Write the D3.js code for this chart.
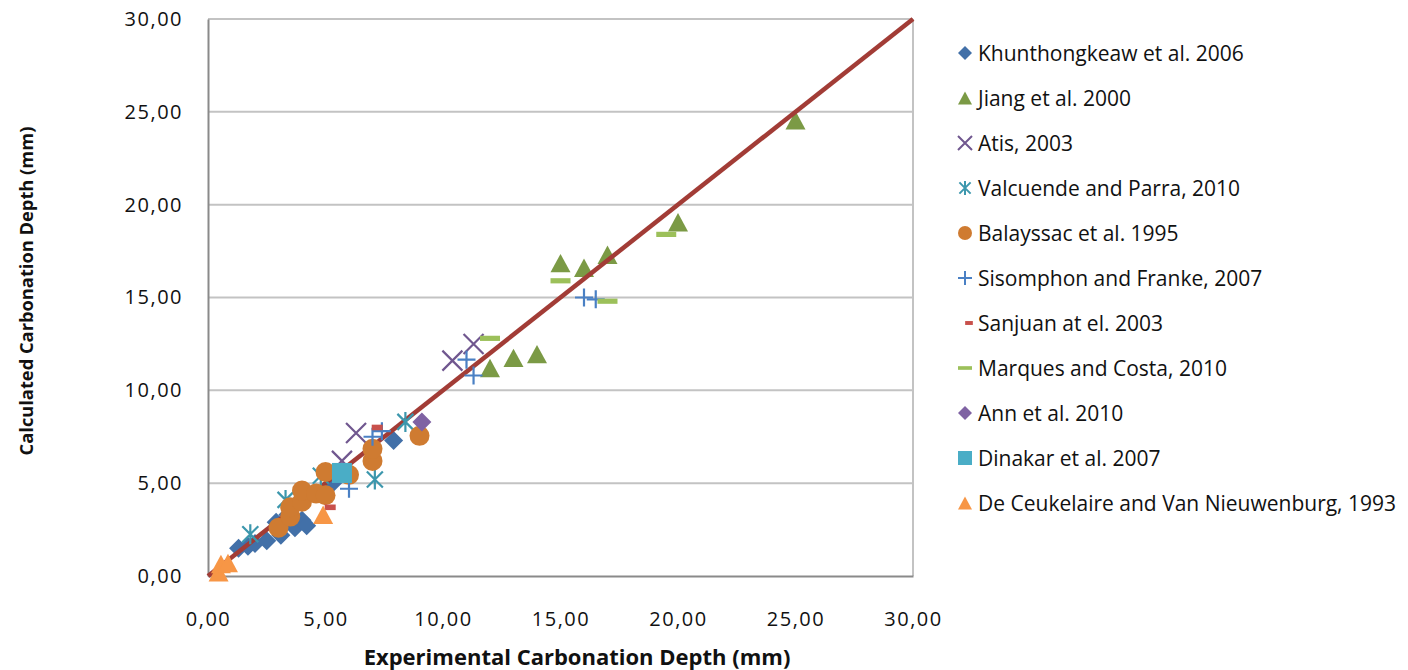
<!DOCTYPE html>
<html>
<head>
<meta charset="utf-8">
<script src="https://cdn.jsdelivr.net/npm/d3@7/dist/d3.min.js"></script>
<style>
  html, body { margin: 0; padding: 0; background: #fff; }
  svg { display: block; font-family: "Open Sans", "Noto Sans", sans-serif; }
</style>
</head>
<body>
<svg id="chart" width="1408" height="670"></svg>
<script>
// Experimental vs calculated carbonation depth (mm), one array per study
const khunthongkeaw = [[1.3,1.5],[1.7,1.6],[2.0,1.75],[2.5,1.9],[2.9,2.9],[3.1,2.2],[3.4,3.3],[3.7,2.6],[4.0,3.0],[4.2,2.7],[5.3,5.0],[7.9,7.3]];
const jiang = [[12,11.2],[13,11.75],[14,11.95],[15,16.85],[16,16.6],[17,17.3],[20,19.05],[25,24.55]];
const atis = [[5.7,6.2],[6.3,7.7],[10.4,11.6],[11.3,12.5]];
const valcuende = [[1.8,2.25],[3.3,4.1],[4.8,5.4],[7.1,5.2],[8.4,8.3]];
const balayssac = [[3.0,2.6],[3.5,3.2],[3.5,3.7],[4.0,4.0],[4.0,4.6],[4.6,4.45],[5.0,4.35],[5.0,5.6],[6.0,5.45],[7.0,6.2],[7.0,6.85],[9.0,7.55]];
const sisomphon = [[6.0,4.7],[7.0,7.5],[7.4,7.8],[11.0,11.65],[11.3,10.8],[16.0,15.0],[16.5,14.9]];
const sanjuan = [[5.2,3.7],[7.2,8.0]];
const marques = [[12,12.8],[15,15.9],[17,14.8],[19.5,18.4]];
const ann = [[9.1,8.3]];
const dinakar = [[5.7,5.55]];
const deCeukelaire = [[0.45,0.2],[0.55,0.65],[0.85,0.7],[4.9,3.3]];

// line of equality
const equality = [[0,0],[30,30]];

const seriesNames = [
  "Khunthongkeaw et al. 2006",
  "Jiang et al. 2000",
  "Atis, 2003",
  "Valcuende and Parra, 2010",
  "Balayssac et al. 1995",
  "Sisomphon and Franke, 2007",
  "Sanjuan at el. 2003",
  "Marques and Costa, 2010",
  "Ann et al. 2010",
  "Dinakar et al. 2007",
  "De Ceukelaire and Van Nieuwenburg, 1993"
];
const seriesData = [khunthongkeaw, jiang, atis, valcuende, balayssac, sisomphon, sanjuan, marques, ann, dinakar, deCeukelaire];
const seriesMarkers = ["diamond","triangle","x","asterisk","circle","plus","shortdash","longdash","diamond","square","triangle"];
const seriesColors = ["#4270A8","#7B9A45","#70578F","#3C97AD","#CF7B31","#4A80C4","#C8504B","#9CC05A","#7F62A3","#4AADC6","#F79646"];

const xTicks = [0,5,10,15,20,25,30];
const yTicks = [0,5,10,15,20,25,30];
const fmt = v => v.toFixed(2).replace(".", ",");

const svg = d3.select("#chart");
const plotLeft = 208, plotRight = 913, plotTop = 19, plotBottom = 576;

const x = d3.scaleLinear().domain([0,30]).range([plotLeft,plotRight]);
const y = d3.scaleLinear().domain([0,30]).range([plotBottom,plotTop]);

// horizontal gridlines
svg.append("g").selectAll("line").data(yTicks.filter(t => t > 0)).join("line")
  .attr("x1", plotLeft).attr("x2", plotRight)
  .attr("y1", d => y(d)).attr("y2", d => y(d))
  .attr("stroke", "#C3C3C3").attr("stroke-width", 2);
// right border
svg.append("line").attr("x1", plotRight).attr("x2", plotRight).attr("y1", plotTop).attr("y2", plotBottom)
  .attr("stroke", "#C3C3C3").attr("stroke-width", 2);

// axes
const xAxis = d3.axisBottom(x).tickValues(xTicks).tickFormat(fmt).tickSize(0).tickPadding(36);
const yAxis = d3.axisLeft(y).tickValues(yTicks).tickFormat(fmt).tickSize(0).tickPadding(25);
const gx = svg.append("g").attr("transform", `translate(0,${plotBottom})`).call(xAxis);
const gy = svg.append("g").attr("transform", `translate(${plotLeft},0)`).call(yAxis);
[gx, gy].forEach(g => {
  g.select(".domain").attr("stroke", "#8A8A8A").attr("stroke-width", 2);
  g.selectAll("text").attr("font-family", "Open Sans").attr("font-size", 20)
    .attr("letter-spacing", 1.5).attr("fill", "#111");
});

// marker shapes, centred on the data point
function markerPath(type, s) {
  const p = d3.path();
  if (type === "diamond") { p.moveTo(0,-s); p.lineTo(s,0); p.lineTo(0,s); p.lineTo(-s,0); p.closePath(); }
  else if (type === "triangle") { p.moveTo(0,-s*0.92); p.lineTo(s,s*0.92); p.lineTo(-s,s*0.92); p.closePath(); }
  else if (type === "square") { p.rect(-s,-s,2*s,2*s); }
  else if (type === "circle") { p.arc(0,0,s,0,2*Math.PI); }
  else if (type === "x") { p.moveTo(-s,-s); p.lineTo(s,s); p.moveTo(s,-s); p.lineTo(-s,s); }
  else if (type === "plus") { p.moveTo(-s,0); p.lineTo(s,0); p.moveTo(0,-s); p.lineTo(0,s); }
  else if (type === "asterisk") { const a = s*0.8; p.moveTo(-a,-a); p.lineTo(a,a); p.moveTo(a,-a); p.lineTo(-a,a); p.moveTo(0,-s); p.lineTo(0,s); }
  else if (type === "shortdash") { p.rect(-s*0.55,-s*0.28,s*1.1,s*0.56); }
  else if (type === "longdash") { p.rect(-s,-s*0.26,2*s,s*0.52); }
  return p.toString();
}
const stroked = t => t === "x" || t === "plus" || t === "asterisk";

function drawSeries(i) {
  const type = seriesMarkers[i], col = seriesColors[i];
  const size = type === "circle" ? 10 : type === "diamond" ? 9.5 : type === "plus" ? 9 : 10;
  svg.append("g").selectAll("path").data(seriesData[i]).join("path")
    .attr("transform", d => `translate(${x(d[0])},${y(d[1])})`)
    .attr("d", markerPath(type, size))
    .attr("fill", stroked(type) ? "none" : col)
    .attr("stroke", stroked(type) ? col : "none")
    .attr("stroke-width", 2.2);
}

drawSeries(0);
drawSeries(1);
// equality line
svg.append("path").datum(equality)
  .attr("d", d3.line().x(d => x(d[0])).y(d => y(d[1])))
  .attr("stroke", "#A23C36").attr("stroke-width", 4.5).attr("fill", "none");
for (let i = 2; i < seriesData.length; i++) drawSeries(i);

// legend
const legend = svg.append("g");
seriesNames.forEach((name, i) => {
  const cy = 53 + i * 45;
  const type = seriesMarkers[i], col = seriesColors[i];
  legend.append("path")
    .attr("transform", `translate(${type === "shortdash" ? 969 : 965},${cy})`)
    .attr("d", markerPath(type, 7))
    .attr("fill", stroked(type) ? "none" : col)
    .attr("stroke", stroked(type) ? col : "none")
    .attr("stroke-width", 2);
  legend.append("text").attr("x", 978).attr("y", cy).attr("dy", "0.36em")
    .attr("font-size", 21).attr("fill", "#111").text(name);
});

// axis titles
svg.append("text").attr("x", 577).attr("y", 657).attr("dy", "0.35em")
  .attr("text-anchor", "middle").attr("font-weight", "bold").attr("font-size", 22)
  .attr("fill", "#111").text("Experimental Carbonation Depth (mm)");
svg.append("text").attr("transform", "translate(27,291) rotate(-90)").attr("dy", "0.35em")
  .attr("text-anchor", "middle").attr("font-weight", "bold").attr("font-size", 18.3)
  .attr("fill", "#111").text("Calculated Carbonation Depth (mm)");
</script>
</body>
</html>
